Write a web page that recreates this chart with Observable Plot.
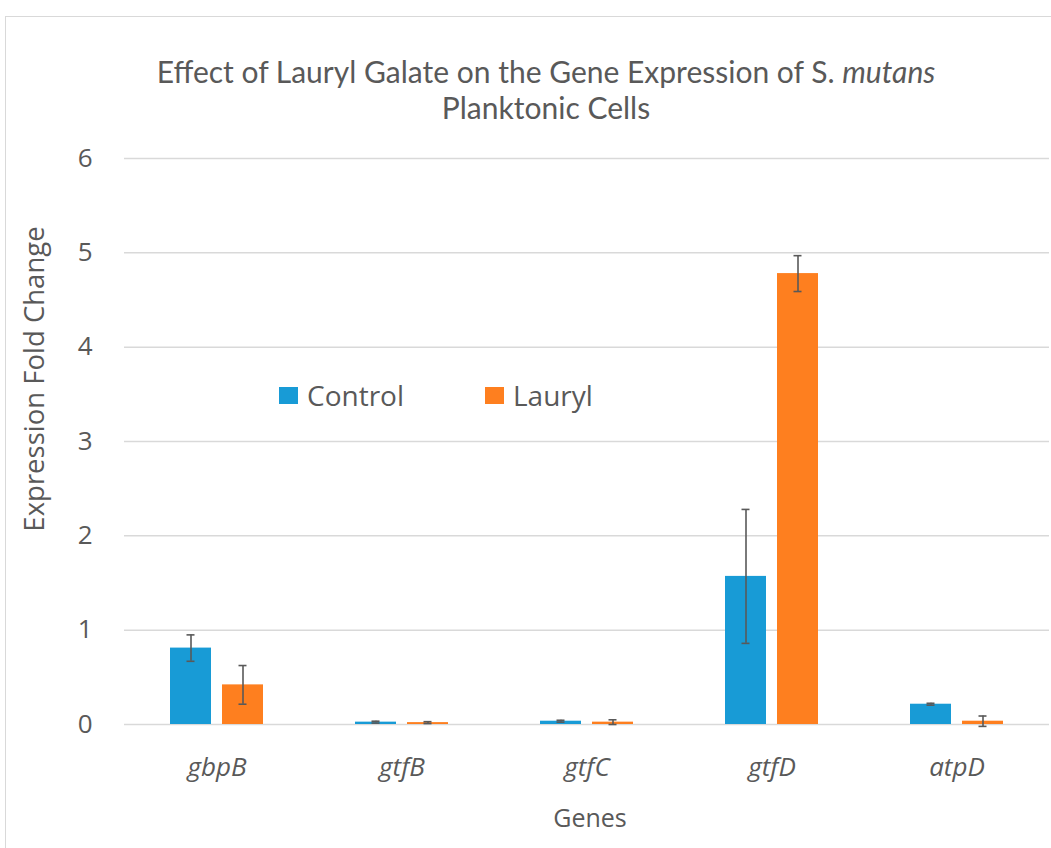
<!DOCTYPE html>
<html>
<head>
<meta charset="utf-8">
<script src="https://cdn.jsdelivr.net/npm/d3@7"></script>
<script src="https://cdn.jsdelivr.net/npm/@observablehq/plot@0.6"></script>
<style>
  html, body { margin: 0; padding: 0; background: #fff; overflow: hidden; }
  body { width: 1051px; height: 848px; position: relative; font-family: "Open Sans", sans-serif; color: #595959; }
  #frame { position: absolute; left: 5px; top: 16px; width: 1100px; height: 900px; border: 1.5px solid #d9d9d9; box-sizing: border-box; }
  #chart { position: absolute; left: 0; top: 0; }
  .title { position: absolute; left: 546px; transform: translateX(-50%); white-space: nowrap; font-family: Lato, "Open Sans", sans-serif; font-weight: normal; font-size: 30px; line-height: 36px; text-align: center; color: #595959; top: 53px; }
  .ylabel { position: absolute; left: 34px; top: 379px; transform: translate(-50%, -50%) rotate(-90deg); white-space: nowrap; font-size: 27.5px; line-height: 1; color: #595959; }
  .xlabel { position: absolute; left: 590px; top: 805px; transform: translateX(-50%); white-space: nowrap; font-size: 25px; line-height: 1; color: #595959; }
  .legend { position: absolute; top: 378px; font-size: 28px; line-height: 34px; display: flex; align-items: center; color: #595959; }
  .legend .sw { display: inline-block; width: 19px; height: 17px; margin-right: 9px; }
</style>
</head>
<body>
<div id="frame"></div>
<div id="chart"></div>
<div class="title">Effect of Lauryl Galate on the Gene Expression of S. <i>mutans</i><br>Planktonic Cells</div>
<div class="ylabel">Expression Fold Change</div>
<div class="xlabel">Genes</div>
<div id="legend"></div>
<script>
const genes = ["gbpB", "gtfB", "gtfC", "gtfD", "atpD"];
const series = ["Control", "Lauryl"];
const colors = ["#189bd6", "#fe7f1f"];
const controlMean = [0.81, 0.025, 0.035, 1.57, 0.215];
const controlErr  = [0.14, 0.01, 0.01, 0.71, 0.01];
const laurylMean  = [0.42, 0.02, 0.025, 4.78, 0.035];
const laurylErr   = [0.205, 0.01, 0.025, 0.19, 0.055];
const yTicks = [0, 1, 2, 3, 4, 5, 6];

const data = [];
genes.forEach((g, i) => {
  data.push({gene: g, series: "Control", value: controlMean[i], lo: controlMean[i] - controlErr[i], hi: controlMean[i] + controlErr[i]});
  data.push({gene: g, series: "Lauryl", value: laurylMean[i], lo: laurylMean[i] - laurylErr[i], hi: laurylMean[i] + laurylErr[i]});
});

const chart = Plot.plot({
  width: 1051,
  height: 848,
  marginTop: 158,
  marginBottom: 124,
  marginLeft: 122,
  marginRight: 0,
  style: {fontFamily: "'Open Sans', sans-serif", color: "#595959", background: "transparent"},
  fx: {domain: genes, padding: 0, label: null},
  x: {domain: series, paddingInner: 0.2075, paddingOuter: 0.857, axis: null},
  y: {domain: [0, 6], label: null},
  color: {domain: series, range: colors},
  marks: [
    Plot.gridY(yTicks, {stroke: "#d9d9d9", strokeOpacity: 1, strokeWidth: 1.5}),
    Plot.axisY(yTicks, {tickSize: 0, tickPadding: 32, fontSize: 26, fill: "#595959", label: null, tickFormat: d3.format("d")}),
    Plot.axisFx({anchor: "bottom", tickSize: 0, tickPadding: 33, fontSize: 26, fontStyle: "italic", fill: "#595959", label: null}),
    Plot.barY(data, {fx: "gene", x: "series", y: "value", fill: "series"}),
    Plot.ruleX(data, {fx: "gene", x: "series", y1: "lo", y2: "hi", stroke: "#595959", strokeWidth: 1.6}),
    Plot.tickY(data, {fx: "gene", x: "series", y: "lo", stroke: "#595959", strokeWidth: 1.6, insetLeft: 16.5, insetRight: 16.5}),
    Plot.tickY(data, {fx: "gene", x: "series", y: "hi", stroke: "#595959", strokeWidth: 1.6, insetLeft: 16.5, insetRight: 16.5})
  ]
});
document.getElementById("chart").appendChild(chart);

// legend
const legendLefts = [279, 485];
const leg = document.getElementById("legend");
series.forEach((s, i) => {
  const d = document.createElement("div");
  d.className = "legend";
  d.style.left = legendLefts[i] + "px";
  d.innerHTML = `<span class="sw" style="background:${colors[i]}"></span><span>${s}</span>`;
  leg.appendChild(d);
});
</script>
</body>
</html>
